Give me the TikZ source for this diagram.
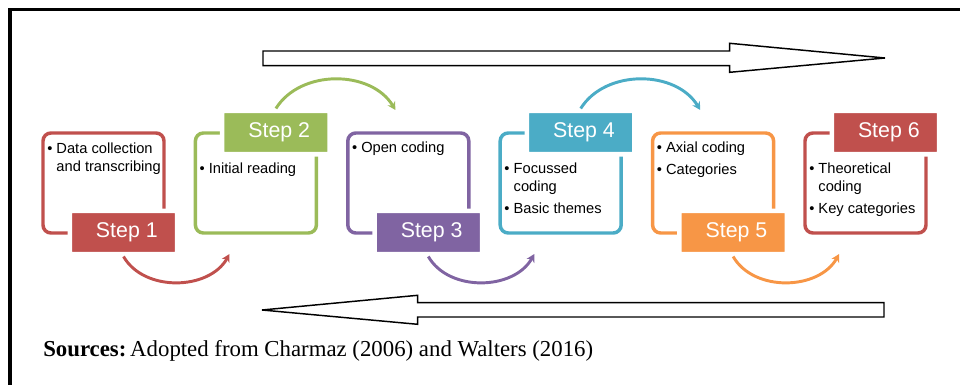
\documentclass[tikz,border=0pt]{standalone}
\usepackage{fontspec}
\setmainfont{Liberation Serif}
\setsansfont{Liberation Sans}
\usetikzlibrary{arrows.meta}
\definecolor{cred}{HTML}{C0504D}
\definecolor{cgreen}{HTML}{9BBB59}
\definecolor{cpurple}{HTML}{8064A2}
\definecolor{cblue}{HTML}{4BACC6}
\definecolor{corange}{HTML}{F79646}

\begin{document}
\begin{tikzpicture}[x=0.75pt,y=0.75pt,
    stepbox/.style={draw,rounded corners=6pt,line width=2.6pt,minimum width=90.75pt,minimum height=75pt,inner sep=0pt},
    steplabel/.style={draw=white,line width=3.4pt,rounded corners=1.5pt,minimum width=80.6pt,minimum height=32.6pt,text=white,font=\sffamily\fontsize{16}{18}\selectfont},
    items/.style={anchor=north west,inner sep=0pt,align=left,font=\sffamily\fontsize{11}{13.1}\selectfont},
    flow/.style={line width=2.2pt,-{Stealth[length=6pt,width=6.5pt]}},
    bigarrow/.style={draw,line width=1.1pt,fill=white}]
    \useasboundingbox (0,0) rectangle (960,-385);
    \draw[line width=2.6pt] (10,-392) -- (10,-9.3) -- (966,-9.3);

    \draw[bigarrow] (263,-51) -- (729.7,-51) -- (729.7,-43.3) -- (885,-58) -- (729.7,-72.3) -- (729.7,-65.7) -- (263,-65.7) -- cycle;
    \draw[bigarrow] (262,-310) -- (417.7,-295.3) -- (417.7,-302.7) -- (884,-302.7) -- (884,-317) -- (417.7,-317) -- (417.7,-324.3) -- cycle;

    \draw (103.5,-183) node [stepbox,draw=cred] (b1) {};
    \draw (255.9,-183) node [stepbox,draw=cgreen] (b2) {};
    \draw (408.3,-183) node [stepbox,draw=cpurple] (b3) {};
    \draw (560.7,-183) node [stepbox,draw=cblue] (b4) {};
    \draw (713.1,-183) node [stepbox,draw=corange] (b5) {};
    \draw (865.5,-183) node [stepbox,draw=cred] (b6) {};

    \draw (123.5,-232.5) node [steplabel,fill=cred] (s1) {\hspace*{5pt}Step 1};
    \draw (275.9,-132.5) node [steplabel,fill=cgreen] (s2) {\hspace*{5pt}Step 2};
    \draw (428.3,-232.5) node [steplabel,fill=cpurple] (s3) {\hspace*{5pt}Step 3};
    \draw (580.7,-132.5) node [steplabel,fill=cblue] (s4) {\hspace*{5pt}Step 4};
    \draw (733.1,-232.5) node [steplabel,fill=corange] (s5) {\hspace*{5pt}Step 5};
    \draw (885.5,-132.5) node [steplabel,fill=cred] (s6) {\hspace*{5pt}Step 6};

    \draw (47,-143) node [items] (t1) {\textbullet\ Data collection\\\phantom{\textbullet\ }and transcribing};
    \draw (199.4,-163) node [items] (t2) {\textbullet\ Initial reading};
    \draw (351.8,-142) node [items] (t3) {\textbullet\ Open coding};
    \draw (504.2,-163) node [items] (t4) {\textbullet\ Focussed\\\phantom{\textbullet\ }coding\\[3.4pt]\textbullet\ Basic themes};
    \draw (656.6,-142) node [items] (t5) {\textbullet\ Axial coding\\[3.4pt]\textbullet\ Categories};
    \draw (809,-163) node [items] (t6) {\textbullet\ Theoretical\\\phantom{\textbullet\ }coding\\[3.4pt]\textbullet\ Key categories};

    \coordinate (e1) at (229.5,-254);
    \coordinate (e2) at (395.4,-110);
    \coordinate (e3) at (534.3,-254);
    \coordinate (e4) at (700.2,-110);
    \coordinate (e5) at (839.1,-254);

    \draw[flow,cred] (s1.south) to [out=-60, in=-119] (e1);
    \draw[flow,cgreen] (s2.north) to [out=58, in=121] (e2);
    \draw[flow,cpurple] (s3.south) to [out=-60, in=-119] (e3);
    \draw[flow,cblue] (s4.north) to [out=58, in=121] (e4);
    \draw[flow,corange] (s5.south) to [out=-60, in=-119] (e5);

    \draw (43,-356.7) node [anchor=base west,inner sep=0pt,font=\fontsize{17.1}{20}\selectfont] (src) {\textbf{Sources:}\,Adopted from Charmaz (2006) and Walters (2016)};
\end{tikzpicture}
\end{document}
